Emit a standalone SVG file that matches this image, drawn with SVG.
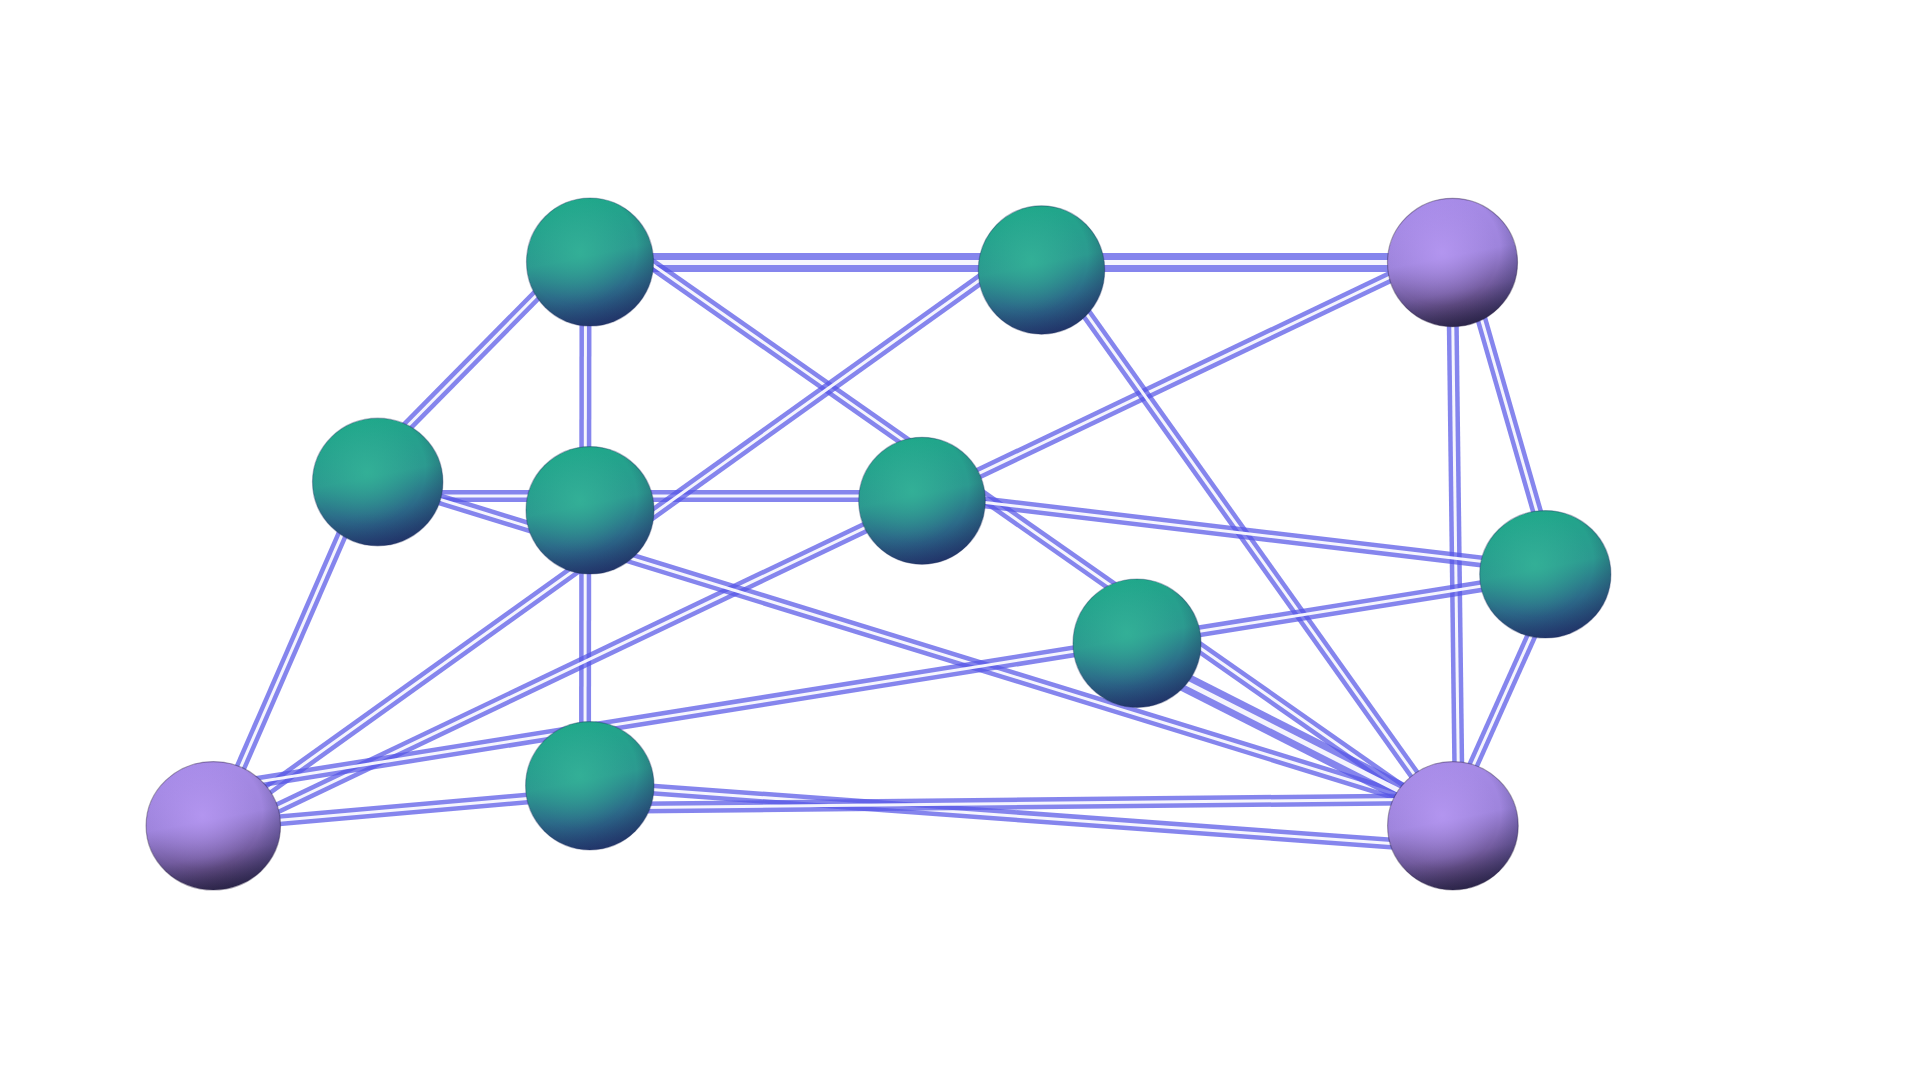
<svg xmlns="http://www.w3.org/2000/svg" xmlns:xlink="http://www.w3.org/1999/xlink" width="1920" height="1080" viewBox="0 0 1920 1080">
  <style>
    .b { stroke: #5656e6; stroke-opacity: 0.72; stroke-width: 12; fill: none; stroke-linecap: butt; }
    .w { stroke: #ffffff; stroke-opacity: 0.92; stroke-width: 3; fill: none; }
    .bt { stroke: #5656e6; stroke-opacity: 0.72; stroke-width: 19; fill: none; }
    .wt { stroke: #ffffff; stroke-opacity: 0.92; stroke-width: 5; fill: none; }
    .teal { fill: url(#gTeal); stroke: #1f2f5f; stroke-opacity: 0.35; stroke-width: 1.2; }
    .purple { fill: url(#gPurple); stroke: #2a1f40; stroke-opacity: 0.4; stroke-width: 1.2; }
    .hlT { fill: url(#hTeal); }
    .hlP { fill: url(#hPurple); }
    .rim { fill: url(#rim); }
  </style>
  <defs>
    <linearGradient id="gTeal" x1="0.4" y1="0" x2="0.6" y2="1">
      <stop offset="0" stop-color="#1fa88a"/>
      <stop offset="0.45" stop-color="#2c9a90"/>
      <stop offset="0.72" stop-color="#2c6b89"/>
      <stop offset="1" stop-color="#243a72"/>
    </linearGradient>
    <linearGradient id="gPurple" x1="0.4" y1="0" x2="0.6" y2="1">
      <stop offset="0" stop-color="#a88ce9"/>
      <stop offset="0.45" stop-color="#9e84dc"/>
      <stop offset="0.72" stop-color="#735c9f"/>
      <stop offset="1" stop-color="#2f2342"/>
    </linearGradient>
    <radialGradient id="hTeal" cx="0.42" cy="0.42" r="0.42">
      <stop offset="0" stop-color="#36b89a" stop-opacity="0.7"/>
      <stop offset="1" stop-color="#36b89a" stop-opacity="0"/>
    </radialGradient>
    <radialGradient id="hPurple" cx="0.42" cy="0.42" r="0.42">
      <stop offset="0" stop-color="#bb9cf7" stop-opacity="0.7"/>
      <stop offset="1" stop-color="#bb9cf7" stop-opacity="0"/>
    </radialGradient>
    <radialGradient id="rim" cx="0.42" cy="0.4" r="0.62">
      <stop offset="0.72" stop-color="#1a2250" stop-opacity="0"/>
      <stop offset="1" stop-color="#1a2250" stop-opacity="0.3"/>
    </radialGradient>
    <filter id="soft" x="-5%" y="-5%" width="110%" height="110%">
      <feGaussianBlur stdDeviation="0.7"/>
    </filter>
    <line id="p13" x1="590" y1="262.5" x2="1452" y2="262.5"/>
    <line id="p14" x1="590" y1="241" x2="377" y2="457"/>
    <line id="p1510" x1="585.5" y1="262" x2="585" y2="786"/>
    <line id="p111" x1="590" y1="221" x2="1453" y2="825"/>
    <line id="p29" x1="1041" y1="236" x2="213" y2="829"/>
    <line id="p211" x1="1041" y1="250" x2="1451" y2="826"/>
    <line id="p39" x1="1453" y1="247" x2="213" y2="839"/>
    <line id="p311" x1="1452" y1="262" x2="1459" y2="826"/>
    <line id="p37" x1="1465" y1="262" x2="1555" y2="574"/>
    <line id="p46" x1="377" y1="496" x2="922" y2="496"/>
    <line id="p49" x1="365" y1="482" x2="215" y2="826"/>
    <line id="p411" x1="377" y1="480" x2="1453" y2="812"/>
    <line id="p67" x1="922" y1="495" x2="1545" y2="569"/>
    <line id="p97" x1="213" y1="789" x2="1545" y2="576"/>
    <line id="p910" x1="213" y1="826" x2="590" y2="793"/>
    <line id="p811" x1="1137" y1="658" x2="1453" y2="818"/>
    <line id="p711" x1="1559" y1="574" x2="1446" y2="826"/>
    <line id="p1011a" x1="590" y1="785" x2="1453" y2="848"/>
    <line id="p1011b" x1="590" y1="808" x2="1453" y2="799"/>
  </defs>

  <rect width="1920" height="1080" fill="#ffffff"/>

  <g id="connectors" filter="url(#soft)">
    <g id="e-1-3"><use xlink:href="#p13" class="bt"/><use xlink:href="#p13" class="wt"/></g>
    <g id="e-1-4"><use xlink:href="#p14" class="b"/><use xlink:href="#p14" class="w"/></g>
    <g id="e-1-5-10"><use xlink:href="#p1510" class="b"/><use xlink:href="#p1510" class="w"/></g>
    <g id="e-4-6"><use xlink:href="#p46" class="b"/><use xlink:href="#p46" class="w"/></g>
    <g id="e-4-9"><use xlink:href="#p49" class="b"/><use xlink:href="#p49" class="w"/></g>
    <g id="e-1-11"><use xlink:href="#p111" class="b"/><use xlink:href="#p111" class="w"/></g>
    <g id="e-2-9"><use xlink:href="#p29" class="b"/><use xlink:href="#p29" class="w"/></g>
    <g id="e-3-9"><use xlink:href="#p39" class="b"/><use xlink:href="#p39" class="w"/></g>
    <g id="e-2-11"><use xlink:href="#p211" class="b"/><use xlink:href="#p211" class="w"/></g>
    <g id="e-3-11"><use xlink:href="#p311" class="b"/><use xlink:href="#p311" class="w"/></g>
    <g id="e-3-7"><use xlink:href="#p37" class="b"/><use xlink:href="#p37" class="w"/></g>
    <g id="e-4-11"><use xlink:href="#p411" class="b"/><use xlink:href="#p411" class="w"/></g>
    <g id="e-6-7"><use xlink:href="#p67" class="b"/><use xlink:href="#p67" class="w"/></g>
    <g id="e-9-7"><use xlink:href="#p97" class="b"/><use xlink:href="#p97" class="w"/></g>
    <g id="e-9-10"><use xlink:href="#p910" class="b"/><use xlink:href="#p910" class="w"/></g>
    <g id="e-8-11"><use xlink:href="#p811" class="bt"/><use xlink:href="#p811" class="wt"/></g>
    <g id="e-7-11"><use xlink:href="#p711" class="b"/><use xlink:href="#p711" class="w"/></g>
    <g id="e-10-11a"><use xlink:href="#p1011a" class="b"/><use xlink:href="#p1011a" class="w"/></g>
    <g id="e-10-11b"><use xlink:href="#p1011b" class="b"/><use xlink:href="#p1011b" class="w"/></g>
  </g>

  <g id="nodes">
    <g id="n1"><ellipse class="teal" cx="590" cy="262" rx="63.5" ry="64"/><ellipse class="hlT" cx="590" cy="262" rx="63.5" ry="64"/><ellipse class="rim" cx="590" cy="262" rx="63.5" ry="64"/></g>
    <g id="n2"><ellipse class="teal" cx="1041.5" cy="270" rx="63.2" ry="64.2"/><ellipse class="hlT" cx="1041.5" cy="270" rx="63.2" ry="64.2"/><ellipse class="rim" cx="1041.5" cy="270" rx="63.2" ry="64.2"/></g>
    <g id="n3"><ellipse class="purple" cx="1452.5" cy="262.5" rx="65" ry="64.2"/><ellipse class="hlP" cx="1452.5" cy="262.5" rx="65" ry="64.2"/><ellipse class="rim" cx="1452.5" cy="262.5" rx="65" ry="64.2"/></g>
    <g id="n4"><ellipse class="teal" cx="377.7" cy="482" rx="65.2" ry="63.8"/><ellipse class="hlT" cx="377.7" cy="482" rx="65.2" ry="63.8"/><ellipse class="rim" cx="377.7" cy="482" rx="65.2" ry="63.8"/></g>
    <g id="n5"><ellipse class="teal" cx="590" cy="510.3" rx="64" ry="63.7"/><ellipse class="hlT" cx="590" cy="510.3" rx="64" ry="63.7"/><ellipse class="rim" cx="590" cy="510.3" rx="64" ry="63.7"/></g>
    <g id="n6"><ellipse class="teal" cx="922" cy="500.8" rx="63.3" ry="63.5"/><ellipse class="hlT" cx="922" cy="500.8" rx="63.3" ry="63.5"/><ellipse class="rim" cx="922" cy="500.8" rx="63.3" ry="63.5"/></g>
    <g id="n7"><ellipse class="teal" cx="1545.3" cy="574.3" rx="65.6" ry="63.7"/><ellipse class="hlT" cx="1545.3" cy="574.3" rx="65.6" ry="63.7"/><ellipse class="rim" cx="1545.3" cy="574.3" rx="65.6" ry="63.7"/></g>
    <g id="n8"><ellipse class="teal" cx="1137" cy="643.2" rx="64" ry="64.2"/><ellipse class="hlT" cx="1137" cy="643.2" rx="64" ry="64.2"/><ellipse class="rim" cx="1137" cy="643.2" rx="64" ry="64.2"/></g>
    <g id="n9"><ellipse class="purple" cx="213.3" cy="825.8" rx="67.2" ry="64.2"/><ellipse class="hlP" cx="213.3" cy="825.8" rx="67.2" ry="64.2"/><ellipse class="rim" cx="213.3" cy="825.8" rx="67.2" ry="64.2"/></g>
    <g id="n10"><ellipse class="teal" cx="589.8" cy="785.8" rx="64.2" ry="64.2"/><ellipse class="hlT" cx="589.8" cy="785.8" rx="64.2" ry="64.2"/><ellipse class="rim" cx="589.8" cy="785.8" rx="64.2" ry="64.2"/></g>
    <g id="n11"><ellipse class="purple" cx="1452.9" cy="825.8" rx="65.3" ry="64.2"/><ellipse class="hlP" cx="1452.9" cy="825.8" rx="65.3" ry="64.2"/><ellipse class="rim" cx="1452.9" cy="825.8" rx="65.3" ry="64.2"/></g>
  </g>
</svg>
